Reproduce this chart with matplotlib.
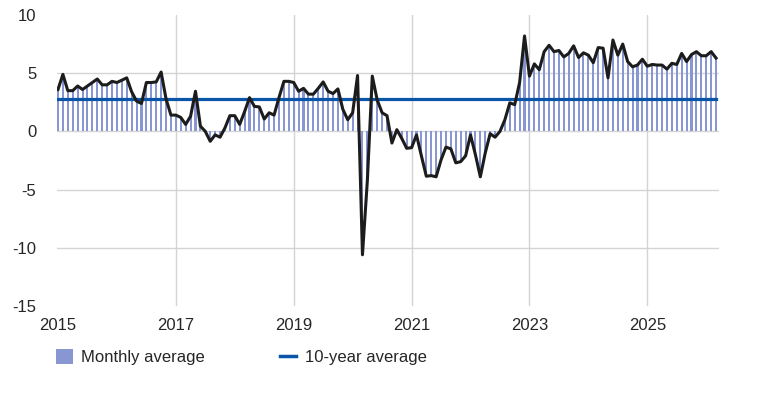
import matplotlib
matplotlib.use('Agg')
import matplotlib.pyplot as plt
from matplotlib.patches import Patch
from matplotlib.lines import Line2D

# monthly values, Jan 2015 .. Mar 2026
monthly = [
    3.6, 4.9, 3.5, 3.5, 3.9, 3.6, 3.9, 4.2, 4.5, 4.0, 4.0, 4.3,
    4.2, 4.4, 4.6, 3.4, 2.6, 2.4, 4.2, 4.2, 4.25, 5.1, 2.8, 1.4,
    1.4, 1.2, 0.6, 1.3, 3.45, 0.45, 0.0, -0.85, -0.3, -0.5, 0.3, 1.35,
    1.35, 0.6, 1.7, 2.9, 2.15, 2.1, 1.06, 1.6, 1.4, 2.9, 4.3, 4.3,
    4.2, 3.45, 3.7, 3.2, 3.2, 3.7, 4.25, 3.45, 3.25, 3.65, 1.9, 1.0,
    1.6, 4.8, -10.6, -4.2, 4.75, 2.7, 1.6, 1.35, -1.0, 0.15, -0.6, -1.45,
    -1.4, -0.3, -2.1, -3.85, -3.8, -3.9, -2.45, -1.35, -1.5, -2.7, -2.6, -2.1,
    -0.3, -2.0, -3.9, -1.85, -0.2, -0.5, 0.0, 1.0, 2.45, 2.3, 4.2, 8.2,
    4.75, 5.8, 5.3, 6.85, 7.4, 6.85, 6.95, 6.4, 6.7, 7.35, 6.35, 6.75,
    6.55, 5.9, 7.2, 7.15, 4.6, 7.85, 6.55, 7.5, 6.0, 5.55, 5.7, 6.2,
    5.6, 5.75, 5.7, 5.7, 5.35, 5.85, 5.75, 6.7, 6.0, 6.6, 6.85, 6.5,
    6.5, 6.85, 6.3,
]
ten_year_avg = 2.8
year_ticks = [2015, 2017, 2019, 2021, 2023, 2025]
y_ticks = [10, 5, 0, -5, -10, -15]

bar_color = '#8896d2'
avg_color = '#0a55a8'
text_color = '#262626'
grid_color = '#d4d4d4'

plt.rcParams['font.family'] = ['Liberation Sans', 'DejaVu Sans']

fig = plt.figure(figsize=(7.68, 3.96), dpi=100)
ax = fig.add_axes([57 / 768, 1 - 306 / 396, (719 - 57) / 768, (306 - 15) / 396])

idx = list(range(len(monthly)))
ax.bar(idx, monthly, width=0.42, color=bar_color, zorder=2)
ax.plot([idx[0], idx[-1]], [ten_year_avg, ten_year_avg], color=avg_color, lw=2.3, zorder=3)
ax.plot(idx, monthly, color='#1c1c1c', lw=2.2, zorder=4)

ax.set_xlim(-0.2, 134.6)
ax.set_ylim(-15, 10)
ax.set_xticks([(y - 2015) * 12 for y in year_ticks])
ax.set_xticklabels([str(y) for y in year_ticks])
ax.set_yticks(y_ticks)
ax.set_yticklabels([str(v) for v in y_ticks])

for y in [5, 0, -5, -10]:
    ax.axhline(y, color=grid_color, lw=1.0, zorder=1)
for y in year_ticks[1:]:
    ax.axvline((y - 2015) * 12, color=grid_color, lw=1.0, zorder=1)

for s in ax.spines.values():
    s.set_visible(False)
ax.tick_params(axis='both', length=0, labelsize=12, colors=text_color)
ax.tick_params(axis='y', pad=15)
ax.tick_params(axis='x', pad=9)

handles = [Patch(facecolor=bar_color, edgecolor='none'),
           Line2D([0], [0], color=avg_color, lw=2.5)]
fig.legend(handles, ['Monthly average', '10-year average'],
           loc='center left', bbox_to_anchor=(56 / 768, 1 - 357 / 396),
           ncol=2, frameon=False, fontsize=12, labelcolor=text_color,
           borderpad=0, borderaxespad=0,
           handlelength=1.0, handleheight=1.05, handletextpad=0.5,
           columnspacing=4.5)

fig.savefig('out.png', dpi=100)
